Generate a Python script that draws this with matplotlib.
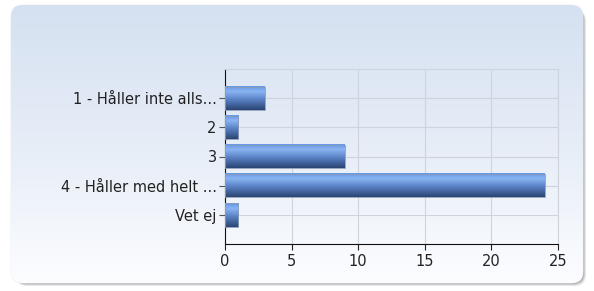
import numpy as np
import matplotlib
matplotlib.use('Agg')
import matplotlib.pyplot as plt
from matplotlib.patches import FancyBboxPatch, Rectangle
from matplotlib.colors import LinearSegmentedColormap

categories = ['1 - Håller inte alls...', '2', '3', '4 - Håller med helt ...', 'Vet ej']
values = [3, 1, 9, 24, 1]
xticks = [0, 5, 10, 15, 20, 25]

W, H = 594, 291
fig = plt.figure(figsize=(W / 100, H / 100), dpi=100)
fig.patch.set_facecolor('white')

# background panel with shadow and gradient
bg = fig.add_axes([0, 0, 1, 1])
bg.set_xlim(0, W)
bg.set_ylim(H, 0)
bg.axis('off')
for i, (off, c) in enumerate([(5, '#e6e6e6'), (4, '#cccccc'), (3, '#acacac')]):
    sh = FancyBboxPatch((11 + off, 5 + off), 572 - 2, 278 - 2,
                        boxstyle='round,pad=0,rounding_size=12',
                        facecolor=c, edgecolor='none', zorder=1 + i)
    bg.add_patch(sh)
panel = FancyBboxPatch((11, 5), 572, 278, boxstyle='round,pad=0,rounding_size=12',
                       facecolor='white', edgecolor='#e8ecf2', linewidth=0.6, zorder=5)
bg.add_patch(panel)
grad_cmap = LinearSegmentedColormap.from_list('panel', ['#d5e1f1', '#e6edf7', '#fcfdff'])
grad = np.linspace(0, 1, 256).reshape(-1, 1)
im = bg.imshow(grad, cmap=grad_cmap, extent=(11, 583, 283, 5), aspect='auto', zorder=6)
im.set_clip_path(panel)

# chart area
ax = fig.add_axes([225 / W, 47 / H, 333 / W, 175 / H])
ax.set_facecolor('none')
ax.set_xlim(0, 25)
ax.set_ylim(5, -1)
ax.set_xticks(xticks)
ax.set_yticks(range(len(categories)))
ax.set_yticklabels(categories)
ax.tick_params(axis='both', labelsize=10.5, colors='#222222', direction='out', length=4, width=0.8)
ax.tick_params(axis='y', colors='#555555', labelcolor='#222222', pad=2)
ax.tick_params(axis='x', colors='#222222', pad=3)

ax.grid(True, color='#cfd4dc', linewidth=0.8, zorder=0)
ax.set_axisbelow(True)
for side in ['top', 'right']:
    ax.spines[side].set_color('#cfd4dc')
    ax.spines[side].set_linewidth(0.8)
ax.spines['left'].set_color('#111111')
ax.spines['bottom'].set_color('#111111')

bar_cmap = LinearSegmentedColormap.from_list(
    'bar', [(0, '#6497e8'), (0.22, '#8ab4f2'), (0.55, '#5a83c6'), (1, '#2b4574')])
bar_h = 0.8
for i, v in enumerate(values):
    g = bar_cmap(np.linspace(0, 1, 64)).reshape(-1, 1, 4)
    ax.imshow(g, extent=(0, v, i + bar_h / 2, i - bar_h / 2), aspect='auto', zorder=3,
              interpolation='bilinear')
    ax.add_patch(Rectangle((0, i - bar_h / 2), v, bar_h, facecolor='none',
                           edgecolor='#8a9bb5', linewidth=0.6, zorder=4))
ax.set_xlim(0, 25)
ax.set_ylim(5, -1)

fig.savefig('out.png', dpi=100)
